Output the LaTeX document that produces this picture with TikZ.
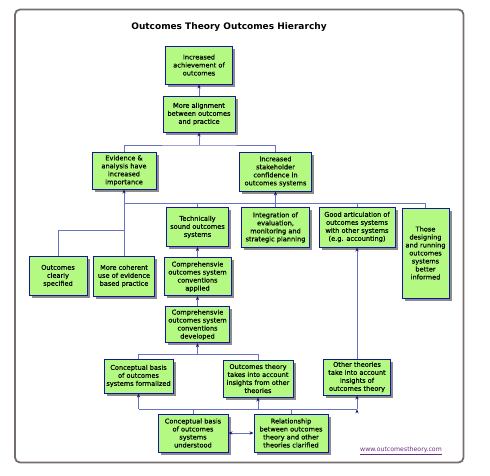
\documentclass[tikz,border=0pt]{standalone}
\usepackage{fontspec}
\setmainfont{DejaVu Sans}
\newfontfamily\boxfont[FakeBold=0.35]{DejaVu Sans}
\usetikzlibrary{arrows.meta,shadows}
\definecolor{boxgreen}{RGB}{180,250,130}
\definecolor{boxblue}{RGB}{20,20,160}
\definecolor{linkblue}{RGB}{105,115,190}
\definecolor{tipblue}{RGB}{20,20,110}
\definecolor{framegray}{RGB}{118,110,110}
\definecolor{sitepurple}{RGB}{110,40,130}

\begin{document}
\begin{tikzpicture}[x=1pt, y=-1pt,
  outcome node/.style={draw=boxblue, line width=1pt, fill=boxgreen, align=center, inner sep=0pt,
    font=\boxfont\fontsize{6.6}{8}\selectfont,
    drop shadow={shadow xshift=2.5pt, shadow yshift=-2.5pt, fill=black!45, opacity=1}},
  link/.style={draw=linkblue, line width=0.9pt},
  up/.style={link, -{Stealth[length=4pt, width=3.2pt, color=tipblue]}},
  both ways/.style={link, {Stealth[length=4pt, width=3.2pt, color=tipblue]}-{Stealth[length=4pt, width=3.2pt, color=tipblue]}}]
\useasboundingbox (0,0) rectangle (490,475);
\draw[framegray, line width=1.8pt, rounded corners=5pt] (15,9.5) rectangle (463.5,462.5);
\node[font=\bfseries\fontsize{9}{11}\selectfont] (title) at (229,27) {Outcomes Theory Outcomes Hierarchy};

\node[outcome node, minimum width=67pt, minimum height=38pt] (1) at (199,65) {Increased\\achievement of\\outcomes};
\node[outcome node, minimum width=72pt, minimum height=36pt] (2) at (199,114) {More alignment\\between outcomes\\and practice};
\node[outcome node, minimum width=64pt, minimum height=37pt] (3) at (124,170.5) {Evidence \&\\analysis have\\increased\\importance};
\node[outcome node, minimum width=72pt, minimum height=39pt] (4) at (275.5,171.5) {Increased\\stakeholder\\confidence in\\outcomes systems};
\node[outcome node, minimum width=58pt, minimum height=39pt] (5) at (58,276) {Outcomes\\clearly\\specified};
\node[outcome node, minimum width=61pt, minimum height=40pt] (6) at (124,276) {More coherent\\use of evidence\\based practice};
\node[outcome node, minimum width=62pt, minimum height=39pt] (7) at (197.5,227) {Technically\\sound outcomes\\systems};
\node[outcome node, minimum width=68pt, minimum height=40pt] (8) at (275.5,227.5) {Integration of\\evaluation,\\monitoring and\\strategic planning};
\node[outcome node, minimum width=76pt, minimum height=40pt] (9) at (357,227) {Good articulation of\\outcomes systems\\with other systems\\(e.g. accounting)};
\node[outcome node, minimum width=47pt, minimum height=90pt] (10) at (425.5,253) {Those\\designing\\and running\\outcomes\\systems\\better\\informed};
\node[outcome node, minimum width=67pt, minimum height=38pt] (11) at (197.5,276.7) {Comprehensvie\\outcomes system\\conventions\\applied};
\node[outcome node, minimum width=64pt, minimum height=36pt] (12) at (197.5,324.7) {Comprehensvie\\outcomes system\\conventions\\developed};
\node[outcome node, minimum width=69pt, minimum height=34pt] (13) at (138.5,376) {Conceptual basis\\of outcomes\\systems formalized};
\node[outcome node, minimum width=70pt, minimum height=37pt] (14) at (258,378.5) {Outcomes theory\\takes into account\\insights from other\\theories};
\node[outcome node, minimum width=67pt, minimum height=36pt] (15) at (357,377) {Other theories\\take into account\\insights of\\outcomes theory};
\node[outcome node, minimum width=70pt, minimum height=38pt] (16) at (193,433) {Conceptual basis\\of outcomes\\systems\\understood};
\node[outcome node, minimum width=74pt, minimum height=38pt] (17) at (291,433) {Relationship\\between outcomes\\theory and other\\theories clarified};

\node[font=\fontsize{6.2}{7}\selectfont, text=sitepurple] (site) at (401,451) {\underline{www.outcomestheory.com}};

% junctions
\coordinate (j1) at (199,145);
\coordinate (j2) at (124,203);
\coordinate (j3) at (124,230);
\coordinate (j4) at (197.5,354.3);
\coordinate (j5) at (193,409.3);
\coordinate (u13) at (13.south |- j5);
\coordinate (u14) at (14.south |- j5);
\coordinate (u15) at (15.south |- j5);

\path[up]
(2) edge (1)
(j1) edge (2)
(6) edge (3)
(8) edge (4)
(11) edge (7)
(12) edge (11)
(j4) edge (12)
(15) edge (9)
(u13) edge (13)
(u14) edge (14)
(u15) edge (15);
\draw[link] (3.north) |- (j1) -| (4.north);
\draw[link] (j2) -| (7.north) (j2) -| (9.north) (j2) -| (10.north);
\draw[link] (j3) -| (5.north);
\draw[link] (13.north) |- (j4) -| (14.north);
\draw[link] (u13) -- (u15);
\draw[link] (16) -- (16.north |- j5) (17) -- (17.north |- j5);
\draw[both ways] (16) -- (17);
\end{tikzpicture}
\end{document}
